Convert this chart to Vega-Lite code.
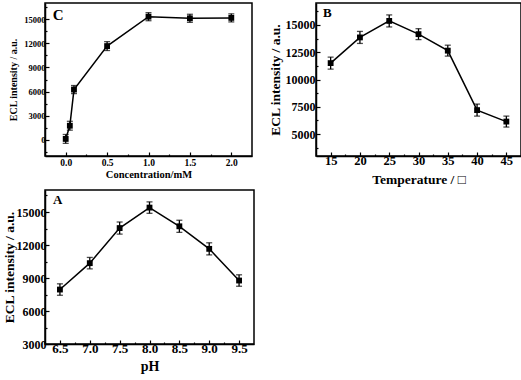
{
  "$schema": "https://vega.github.io/schema/vega-lite/v6.json",
  "padding": {"left": 2, "top": 2, "right": 1, "bottom": 1},
  "background": "white",
  "config": {
    "font": "Liberation Serif",
    "view": {"stroke": null},
    "axis": {"grid": false, "domainColor": "black", "domainWidth": 1.5, "tickColor": "black", "tickWidth": 1.2, "labelColor": "black", "titleColor": "black", "labelFont": "Liberation Serif", "titleFont": "Liberation Serif", "labelFontWeight": "bold", "titleFontWeight": "bold", "labelOverlap": false, "labelFlush": false}
  },
  "columns": 1,
  "align": "none",
  "spacing": 3,
  "concat": [
    {
      "spacing": 15,
      "hconcat": [
        {
          "width": 207, "height": 153,
          "encoding": {
            "x": {"field": "conc", "type": "quantitative", "scale": {"domain": [-0.25, 2.25], "nice": false, "zero": false},
              "axis": {"title": "Concentration/mM", "format": ".1f", "values": [0, 0.25, 0.5, 0.75, 1.0, 1.25, 1.5, 1.75, 2.0],
                "labelExpr": "abs(datum.value*2 - round(datum.value*2)) < 0.001 ? datum.label : ''",
                "tickSize": {"condition": {"test": "abs(datum.value*2 - round(datum.value*2)) < 0.001", "value": -4}, "value": -2},
                "labelFontSize": 9.5, "titleFontSize": 10.5, "labelPadding": 5, "titlePadding": 1}},
            "y": {"field": "intensity", "type": "quantitative", "scale": {"domain": [-2000, 17000], "nice": false, "zero": false},
              "axis": {"title": "ECL intensity / a.u.", "format": "d", "values": [-1500, 0, 1500, 3000, 4500, 6000, 7500, 9000, 10500, 12000, 13500, 15000, 16500],
                "labelExpr": "datum.value % 3000 === 0 ? datum.label : ''",
                "tickSize": {"condition": {"test": "datum.value % 3000 === 0", "value": -4}, "value": -2},
                "labelFontSize": 8.5, "titleFontSize": 10, "labelPadding": 4, "titlePadding": 5}}
          },
          "layer": [
            {"data": {"values": [{"conc": -0.25, "conc_end": 2.25, "intensity": -2000, "intensity_end": 17000}]},
             "mark": {"type": "rect", "fill": null, "fillOpacity": 0, "stroke": "black", "strokeWidth": 1.5},
             "encoding": {"x2": {"field": "conc_end"}, "y2": {"field": "intensity_end"}}},
            {"data": {"values": [
                {"conc": 0, "intensity": 120, "err": 550},
                {"conc": 0.05, "intensity": 1760, "err": 550},
                {"conc": 0.1, "intensity": 6250, "err": 500},
                {"conc": 0.5, "intensity": 11650, "err": 550},
                {"conc": 1.0, "intensity": 15300, "err": 500},
                {"conc": 1.5, "intensity": 15100, "err": 500},
                {"conc": 2.0, "intensity": 15150, "err": 500}
              ]},
             "layer": [
               {"mark": {"type": "line", "color": "black", "strokeWidth": 1.5}},
               {"mark": {"type": "errorbar", "ticks": true, "size": 6, "thickness": 1.3, "color": "black"}, "encoding": {"yError": {"field": "err"}}},
               {"mark": {"type": "point", "shape": "square", "filled": true, "opacity": 1, "size": 34, "color": "black"}}
             ]},
            {"data": {"values": [{"label": "C", "conc": -0.155, "intensity": 16400}]},
             "mark": {"type": "text", "align": "left", "baseline": "top", "fontSize": 15, "fontWeight": "bold", "font": "Liberation Serif", "color": "black"},
             "encoding": {"text": {"field": "label"}}}
          ]
        },
        {
          "width": 205, "height": 153,
          "encoding": {
            "x": {"field": "temp", "type": "quantitative", "scale": {"domain": [12.5, 47.5], "nice": false, "zero": false},
              "axis": {"title": "Temperature / □", "format": "d", "values": [15, 17.5, 20, 22.5, 25, 27.5, 30, 32.5, 35, 37.5, 40, 42.5, 45],
                "labelExpr": "datum.value % 5 === 0 ? datum.label : ''",
                "tickSize": {"condition": {"test": "datum.value % 5 === 0", "value": -4}, "value": -2},
                "labelFontSize": 12.5, "titleFontSize": 13.5, "labelPadding": 2.5, "titlePadding": 3}},
            "y": {"field": "intensity", "type": "quantitative", "scale": {"domain": [3000, 17000], "nice": false, "zero": false},
              "axis": {"title": "ECL intensity / a.u.", "format": "d", "values": [3750, 5000, 6250, 7500, 8750, 10000, 11250, 12500, 13750, 15000, 16250],
                "labelExpr": "datum.value % 2500 === 0 ? datum.label : ''",
                "tickSize": {"condition": {"test": "datum.value % 2500 === 0", "value": -4}, "value": -2},
                "labelFontSize": 12, "titleFontSize": 13.5, "labelPadding": 5, "titlePadding": 3}}
          },
          "layer": [
            {"data": {"values": [{"temp": 12.5, "temp_end": 47.5, "intensity": 3000, "intensity_end": 17000}]},
             "mark": {"type": "rect", "fill": null, "fillOpacity": 0, "stroke": "black", "strokeWidth": 1.5},
             "encoding": {"x2": {"field": "temp_end"}, "y2": {"field": "intensity_end"}}},
            {"data": {"values": [
                {"temp": 15, "intensity": 11500, "err": 550},
                {"temp": 20, "intensity": 13850, "err": 550},
                {"temp": 25, "intensity": 15360, "err": 550},
                {"temp": 30, "intensity": 14150, "err": 500},
                {"temp": 35, "intensity": 12640, "err": 500},
                {"temp": 40, "intensity": 7200, "err": 550},
                {"temp": 45, "intensity": 6150, "err": 500}
              ]},
             "layer": [
               {"mark": {"type": "line", "color": "black", "strokeWidth": 1.5}},
               {"mark": {"type": "errorbar", "ticks": true, "size": 6, "thickness": 1.3, "color": "black"}, "encoding": {"yError": {"field": "err"}}},
               {"mark": {"type": "point", "shape": "square", "filled": true, "opacity": 1, "size": 34, "color": "black"}}
             ]},
            {"data": {"values": [{"label": "B", "temp": 13.7, "intensity": 16600}]},
             "mark": {"type": "text", "align": "left", "baseline": "top", "fontSize": 13, "fontWeight": "bold", "font": "Liberation Serif", "color": "black"},
             "encoding": {"text": {"field": "label"}}}
          ]
        }
      ]
    },
    {
      "width": 209, "height": 154,
      "encoding": {
        "x": {"field": "pH", "type": "quantitative", "scale": {"domain": [6.25, 9.75], "nice": false, "zero": false},
          "axis": {"title": "pH", "format": ".1f", "values": [6.5, 6.75, 7.0, 7.25, 7.5, 7.75, 8.0, 8.25, 8.5, 8.75, 9.0, 9.25, 9.5],
            "labelExpr": "abs(datum.value*2 - round(datum.value*2)) < 0.001 ? datum.label : ''",
            "tickSize": {"condition": {"test": "abs(datum.value*2 - round(datum.value*2)) < 0.001", "value": -4}, "value": -2},
            "labelFontSize": 13, "titleFontSize": 14, "labelPadding": 2.5, "titlePadding": 2}},
        "y": {"field": "intensity", "type": "quantitative", "scale": {"domain": [3000, 17000], "nice": false, "zero": false},
          "axis": {"title": "ECL intensity / a.u.", "format": "d", "values": [3000, 4500, 6000, 7500, 9000, 10500, 12000, 13500, 15000, 16500],
            "labelExpr": "datum.value % 3000 === 0 ? datum.label : ''",
            "tickSize": {"condition": {"test": "datum.value % 3000 === 0", "value": -4}, "value": -2},
            "labelFontSize": 12, "titleFontSize": 13.5, "labelPadding": 3, "titlePadding": 0}}
      },
      "layer": [
        {"data": {"values": [{"pH": 6.25, "pH_end": 9.75, "intensity": 3000, "intensity_end": 17000}]},
         "mark": {"type": "rect", "fill": null, "fillOpacity": 0, "stroke": "black", "strokeWidth": 1.5},
         "encoding": {"x2": {"field": "pH_end"}, "y2": {"field": "intensity_end"}}},
        {"data": {"values": [
            {"pH": 6.5, "intensity": 7950, "err": 520},
            {"pH": 7.0, "intensity": 10350, "err": 520},
            {"pH": 7.5, "intensity": 13540, "err": 550},
            {"pH": 8.0, "intensity": 15400, "err": 520},
            {"pH": 8.5, "intensity": 13700, "err": 550},
            {"pH": 9.0, "intensity": 11650, "err": 550},
            {"pH": 9.5, "intensity": 8770, "err": 520}
          ]},
         "layer": [
           {"mark": {"type": "line", "color": "black", "strokeWidth": 1.5}},
           {"mark": {"type": "errorbar", "ticks": true, "size": 6, "thickness": 1.3, "color": "black"}, "encoding": {"yError": {"field": "err"}}},
           {"mark": {"type": "point", "shape": "square", "filled": true, "opacity": 1, "size": 34, "color": "black"}}
         ]},
        {"data": {"values": [{"label": "A", "pH": 6.384, "intensity": 16600}]},
         "mark": {"type": "text", "align": "left", "baseline": "top", "fontSize": 13, "fontWeight": "bold", "font": "Liberation Serif", "color": "black"},
         "encoding": {"text": {"field": "label"}}}
      ]
    }
  ]
}
